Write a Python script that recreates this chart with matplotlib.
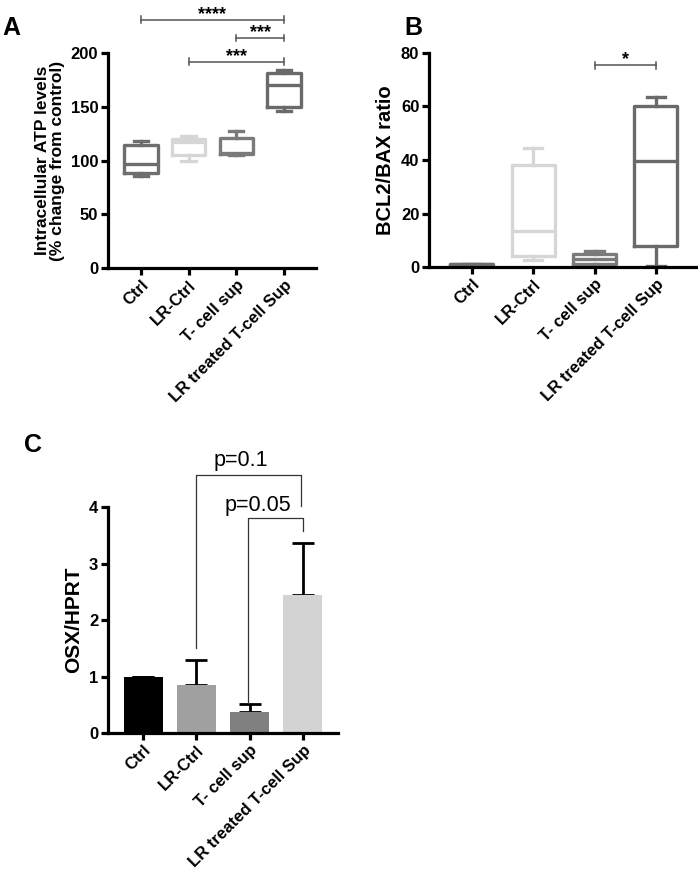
import matplotlib
matplotlib.use("Agg")
import matplotlib.pyplot as plt

plt.rcParams['font.family'] = ['Liberation Sans', 'DejaVu Sans']
plt.rcParams['font.weight'] = 'bold'

categories = ["Ctrl", "LR-Ctrl", "T- cell sup", "LR treated T-cell Sup"]

# Panel A: five-number summaries (whislo, q1, med, q3, whishi)
atp_min = [86, 100, 105, 146]
atp_q1 = [88, 105, 106, 150]
atp_med = [97, 117, 107, 170]
atp_q3 = [114, 120, 121, 181]
atp_max = [118, 123, 127, 184]
atp_colors = ["#6e6e6e", "#d6d6d6", "#7a7a7a", "#6a6a6a"]

# Panel B
bcl_min = [0.6, 2.8, 0.4, 0.5]
bcl_q1 = [0.8, 4.0, 1.3, 8.0]
bcl_med = [1.0, 13.4, 3.0, 39.6]
bcl_q3 = [1.1, 38.3, 4.8, 60.0]
bcl_max = [1.2, 44.4, 6.0, 63.5]
bcl_colors = ["#6e6e6e", "#d6d6d6", "#7a7a7a", "#6a6a6a"]

# Panel C
osx_mean = [1.0, 0.85, 0.37, 2.45]
osx_err = [0.0, 0.45, 0.14, 0.92]
osx_colors = ["#000000", "#a0a0a0", "#808080", "#d3d3d3"]

fig = plt.figure(figsize=(6.98, 8.76), dpi=100)


def style_axis(ax):
    for s in ["top", "right"]:
        ax.spines[s].set_visible(False)
    for s in ["left", "bottom"]:
        ax.spines[s].set_linewidth(2.3)
    ax.tick_params(width=2.3, length=5, labelsize=12, pad=2)
    ax.set_xticks(range(4))
    ax.set_xticklabels(categories, rotation=45, ha="right", rotation_mode="anchor",
                       fontsize=12, fontweight="bold")
    for lab in ax.get_yticklabels():
        lab.set_fontweight("bold")


def boxes(ax, mins, q1s, meds, q3s, maxs, colors):
    for i in range(4):
        st = [dict(whislo=mins[i], q1=q1s[i], med=meds[i], q3=q3s[i], whishi=maxs[i], fliers=[])]
        c = colors[i]
        ax.bxp(st, positions=[i], widths=0.7, showfliers=False, patch_artist=False,
               boxprops=dict(color=c, linewidth=2.4),
               medianprops=dict(color=c, linewidth=2.4),
               whiskerprops=dict(color=c, linewidth=2.4),
               capprops=dict(color=c, linewidth=2.4),
               capwidths=0.3)


def sig(ax, x1, x2, y, text, tick):
    ax.plot([x1, x2], [y, y], color="#555555", lw=1.1, clip_on=False)
    for x in (x1, x2):
        ax.plot([x, x], [y - tick, y + tick], color="#555555", lw=1.1, clip_on=False)
    ax.text((x1 + x2) / 2, y + tick * 0.3, text, ha="center", va="baseline",
            fontsize=13, fontweight="bold", clip_on=False)


# Panel A
axA = fig.add_axes([0.1547, 0.694, 0.298, 0.2455])
boxes(axA, atp_min, atp_q1, atp_med, atp_q3, atp_max, atp_colors)
axA.set_xlim(-0.69, 3.67)
axA.set_ylim(0, 200)
axA.set_yticks([0, 50, 100, 150, 200])
style_axis(axA)
axA.set_ylabel("Intracellular ATP levels\n(% change from control)", fontsize=12.5,
               fontweight="bold", linespacing=1.0, labelpad=4)
sig(axA, 0, 3, 231, "****", 3)
sig(axA, 2, 3, 214, "***", 3)
sig(axA, 1, 3, 192, "***", 3)
fig.text(0.003, 0.968, "A", fontsize=18, fontweight="bold", va="center")

# Panel B
axB = fig.add_axes([0.6146, 0.6952, 0.384, 0.2443])
boxes(axB, bcl_min, bcl_q1, bcl_med, bcl_q3, bcl_max, bcl_colors)
axB.set_xlim(-0.7, 3.67)
axB.set_ylim(0, 80)
axB.set_yticks([0, 20, 40, 60, 80])
style_axis(axB)
axB.set_ylabel("BCL2/BAX ratio", fontsize=14.5, fontweight="bold")
sig(axB, 2, 3, 75.4, "*", 1.2)
fig.text(0.58, 0.968, "B", fontsize=18, fontweight="bold", va="center")

# Panel C
axC = fig.add_axes([0.1547, 0.1632, 0.3295, 0.258])
x = list(range(4))
axC.bar(x, osx_mean, width=0.73, color=osx_colors, zorder=2)
axC.errorbar(x, osx_mean, yerr=[[0] * 4, osx_err], fmt="none", ecolor="black",
             elinewidth=2, capsize=8, capthick=2, zorder=1)
axC.set_xlim(-0.66, 3.66)
axC.set_ylim(0, 4)
axC.set_yticks([0, 1, 2, 3, 4])
style_axis(axC)
axC.set_ylabel("OSX/HPRT", fontsize=15, fontweight="bold")
# brackets
axC.plot([1, 1, 2.97, 2.97], [1.5, 4.56, 4.56, 4.02], color="#333333", lw=0.9, clip_on=False)
axC.text(1.83, 4.64, "p=0.1", ha="center", va="bottom", fontsize=15.5, fontweight="normal",
         clip_on=False)
axC.plot([1.97, 1.97, 3.0, 3.0], [0.54, 3.8, 3.8, 3.57], color="#333333", lw=0.9, clip_on=False)
axC.text(2.15, 3.84, "p=0.05", ha="center", va="bottom", fontsize=15.5, fontweight="normal",
         clip_on=False)
fig.text(0.035, 0.492, "C", fontsize=18, fontweight="bold", va="center")

fig.savefig("out.png", dpi=100)
